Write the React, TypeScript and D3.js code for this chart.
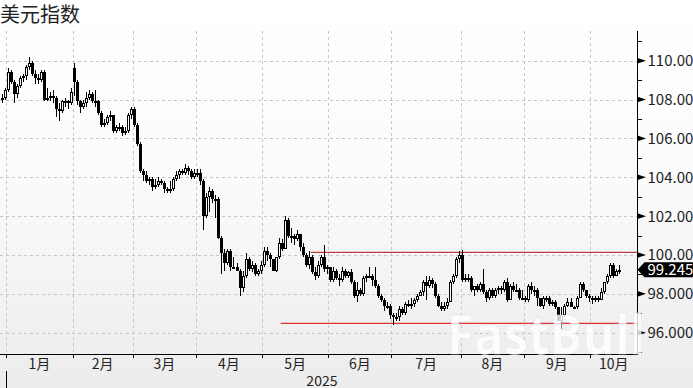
import React from "react";
import * as d3 from "d3";

// [day, open, high, low, close]
const dec24: number[][] = [
  [30, 108.0, 108.3, 107.8, 108.1], [31, 108.1, 108.6, 108.0, 108.5],
];
const jan25: number[][] = [
  [2, 108.5, 109.6, 108.4, 109.4], [3, 109.4, 109.5, 108.8, 108.9], [6, 108.9, 109.0, 107.8, 108.3],
  [7, 108.3, 108.8, 108.1, 108.7], [8, 108.7, 109.2, 108.6, 109.1], [9, 109.1, 109.3, 108.9, 109.2],
  [10, 109.2, 109.8, 109.0, 109.7], [13, 109.7, 110.2, 109.5, 109.9], [14, 109.9, 110.0, 109.2, 109.3],
  [15, 109.3, 109.5, 108.8, 109.1], [16, 109.1, 109.3, 108.8, 109.0], [17, 109.0, 109.5, 108.9, 109.4],
  [20, 109.4, 109.5, 107.9, 108.0], [21, 108.0, 108.6, 107.9, 108.1], [22, 108.1, 108.4, 107.9, 108.2],
  [23, 108.2, 108.5, 107.8, 108.1], [24, 108.1, 108.2, 107.1, 107.5], [27, 107.5, 107.8, 106.9, 107.4],
  [28, 107.4, 108.0, 107.3, 107.9], [29, 107.9, 108.1, 107.6, 107.9], [30, 107.9, 108.0, 107.5, 107.8],
  [31, 107.8, 108.6, 107.7, 108.4],
];
const feb25: number[][] = [
  [3, 109.6, 109.9, 108.2, 108.9], [4, 108.9, 109.0, 107.7, 107.9], [5, 107.9, 108.0, 107.3, 107.6],
  [6, 107.6, 108.0, 107.5, 107.8], [7, 107.8, 108.4, 107.6, 108.1], [10, 108.1, 108.5, 108.0, 108.3],
  [11, 108.3, 108.4, 107.8, 107.9], [12, 107.9, 108.5, 107.6, 107.9], [13, 107.9, 108.0, 107.2, 107.3],
  [14, 107.3, 107.4, 106.6, 106.7], [17, 106.7, 107.0, 106.6, 106.8], [18, 106.8, 107.2, 106.7, 107.1],
  [19, 107.1, 107.4, 106.9, 107.2], [20, 107.2, 107.2, 106.3, 106.4], [21, 106.4, 106.7, 106.3, 106.6],
  [24, 106.6, 106.8, 106.4, 106.6], [25, 106.6, 106.7, 106.1, 106.3], [26, 106.3, 106.6, 106.2, 106.4],
  [27, 106.4, 107.3, 106.3, 107.2], [28, 107.2, 107.6, 107.0, 107.5],
];
const mar25: number[][] = [
  [3, 107.5, 107.6, 106.6, 106.7], [4, 106.7, 106.8, 105.6, 105.7], [5, 105.7, 105.8, 104.2, 104.3],
  [6, 104.3, 104.4, 103.8, 104.1], [7, 104.1, 104.3, 103.7, 103.8], [10, 103.8, 104.0, 103.6, 103.9],
  [11, 103.9, 104.0, 103.3, 103.5], [12, 103.5, 103.9, 103.4, 103.6], [13, 103.6, 104.0, 103.5, 103.8],
  [14, 103.8, 103.9, 103.6, 103.7], [17, 103.7, 103.8, 103.2, 103.4], [18, 103.4, 103.5, 103.2, 103.3],
  [19, 103.3, 103.8, 103.2, 103.4], [20, 103.4, 104.0, 103.3, 103.9], [21, 103.9, 104.3, 103.8, 104.1],
  [24, 104.1, 104.4, 103.9, 104.3], [25, 104.3, 104.4, 104.1, 104.2], [26, 104.2, 104.7, 104.1, 104.5],
  [27, 104.5, 104.6, 104.1, 104.3], [28, 104.3, 104.4, 103.9, 104.0], [31, 104.0, 104.4, 103.9, 104.2],
];
const apr25: number[][] = [
  [1, 104.2, 104.4, 104.0, 104.2], [2, 104.2, 104.4, 103.6, 103.8], [3, 103.8, 103.9, 101.3, 102.0],
  [4, 102.0, 103.2, 101.9, 103.0], [7, 103.0, 103.5, 102.2, 103.3], [8, 103.3, 103.4, 102.7, 102.9],
  [9, 102.9, 103.1, 101.9, 102.9], [10, 102.9, 103.0, 100.8, 100.9], [11, 100.9, 101.0, 99.0, 100.1],
  [14, 100.1, 100.3, 99.2, 99.6], [15, 99.6, 100.3, 99.5, 100.2], [16, 100.2, 100.3, 99.2, 99.4],
  [17, 99.4, 99.9, 99.3, 99.4], [18, 99.4, 99.6, 99.2, 99.2], [21, 99.2, 99.3, 97.9, 98.3],
  [22, 98.3, 99.2, 98.1, 98.9], [23, 98.9, 100.1, 98.8, 99.8], [24, 99.8, 99.9, 99.2, 99.3],
  [25, 99.3, 99.7, 99.1, 99.5], [28, 99.5, 99.6, 98.9, 99.0], [29, 99.0, 99.3, 98.9, 99.2],
  [30, 99.2, 99.7, 99.0, 99.5],
];
const may25: number[][] = [
  [1, 99.5, 100.4, 99.4, 100.2], [2, 100.2, 100.4, 99.7, 100.0], [5, 100.0, 100.1, 99.4, 99.8],
  [6, 99.8, 99.8, 99.2, 99.2], [7, 99.2, 99.9, 99.1, 99.9], [8, 99.9, 100.9, 99.8, 100.6],
  [9, 100.6, 100.8, 100.2, 100.3], [12, 100.3, 102.0, 100.3, 101.8], [13, 101.8, 101.9, 100.9, 101.0],
  [14, 101.0, 101.4, 100.6, 101.0], [15, 101.0, 101.1, 100.5, 100.8], [16, 100.8, 101.3, 100.7, 101.1],
  [19, 101.1, 101.1, 100.2, 100.4], [20, 100.4, 100.6, 99.9, 100.0], [21, 100.0, 100.1, 99.4, 99.5],
  [22, 99.5, 100.2, 99.3, 99.9], [23, 99.9, 100.0, 99.0, 99.1], [26, 99.1, 99.4, 98.7, 98.9],
  [27, 98.9, 99.7, 98.8, 99.5], [28, 99.5, 100.0, 99.4, 99.9], [29, 99.9, 100.5, 99.1, 99.3],
  [30, 99.3, 99.5, 99.0, 99.4],
];
const jun25: number[][] = [
  [2, 99.4, 99.4, 98.6, 98.7], [3, 98.7, 99.4, 98.6, 99.2], [4, 99.2, 99.3, 98.7, 98.8],
  [5, 98.8, 99.0, 98.4, 98.7], [6, 98.7, 99.4, 98.6, 99.2], [9, 99.2, 99.3, 98.8, 98.9],
  [10, 98.9, 99.2, 98.8, 99.1], [11, 99.1, 99.3, 98.5, 98.6], [12, 98.6, 98.7, 97.8, 97.9],
  [13, 97.9, 98.6, 97.6, 98.2], [16, 98.2, 98.3, 97.9, 98.0], [17, 98.0, 98.9, 97.9, 98.8],
  [18, 98.8, 99.0, 98.6, 98.9], [19, 98.9, 99.4, 98.8, 98.9], [20, 98.9, 99.0, 98.4, 98.7],
  [23, 98.7, 99.4, 98.3, 98.4], [24, 98.4, 98.5, 97.8, 97.9], [25, 97.9, 98.0, 97.6, 97.7],
  [26, 97.7, 97.8, 97.1, 97.4], [27, 97.4, 97.6, 97.2, 97.4], [30, 97.4, 97.5, 96.7, 96.9],
];
const jul25: number[][] = [
  [1, 96.9, 97.0, 96.4, 96.8], [2, 96.8, 97.0, 96.6, 96.8], [3, 96.8, 97.4, 96.6, 97.2],
  [4, 97.2, 97.3, 96.9, 97.0], [7, 97.0, 97.6, 96.9, 97.5], [8, 97.5, 97.7, 97.3, 97.5],
  [9, 97.5, 97.8, 97.2, 97.5], [10, 97.5, 97.8, 97.3, 97.7], [11, 97.7, 98.0, 97.6, 97.9],
  [14, 97.9, 98.2, 97.9, 98.1], [15, 98.1, 98.7, 97.9, 98.6], [16, 98.6, 98.9, 97.7, 98.4],
  [17, 98.4, 98.9, 98.3, 98.7], [18, 98.7, 98.8, 98.3, 98.5], [21, 98.5, 98.6, 97.8, 97.9],
  [22, 97.9, 98.0, 97.3, 97.4], [23, 97.4, 97.6, 97.1, 97.2], [24, 97.2, 97.6, 97.1, 97.4],
  [25, 97.4, 97.8, 97.2, 97.6], [28, 97.6, 98.7, 97.6, 98.6], [29, 98.6, 99.0, 98.5, 98.9],
  [30, 98.9, 99.9, 98.8, 99.8], [31, 99.8, 100.2, 99.6, 100.0],
];
const aug25: number[][] = [
  [1, 100.0, 100.25, 98.6, 98.7], [4, 98.7, 99.0, 98.6, 98.8], [5, 98.8, 99.0, 98.6, 98.8],
  [6, 98.8, 98.9, 98.1, 98.2], [7, 98.2, 98.4, 97.9, 98.4], [8, 98.4, 98.5, 98.1, 98.2],
  [11, 98.2, 98.6, 98.1, 98.5], [12, 98.5, 99.3, 98.0, 98.1], [13, 98.1, 98.2, 97.6, 97.8],
  [14, 97.8, 98.3, 97.7, 98.2], [15, 98.2, 98.3, 97.8, 97.9], [18, 97.9, 98.3, 97.8, 98.2],
  [19, 98.2, 98.4, 98.0, 98.3], [20, 98.3, 98.4, 98.0, 98.2], [21, 98.2, 98.7, 98.1, 98.6],
  [22, 98.6, 98.8, 97.6, 97.7], [25, 97.7, 98.5, 97.7, 98.4], [26, 98.4, 98.6, 98.1, 98.2],
  [27, 98.2, 98.5, 98.1, 98.2], [28, 98.2, 98.3, 97.7, 97.8], [29, 97.8, 98.2, 97.7, 97.8],
];
const sep25: number[][] = [
  [1, 97.8, 97.9, 97.6, 97.7], [2, 97.7, 98.5, 97.6, 98.4], [3, 98.4, 98.6, 98.0, 98.2],
  [4, 98.2, 98.4, 97.9, 98.2], [5, 98.2, 98.3, 97.4, 97.8], [8, 97.8, 97.8, 97.3, 97.4],
  [9, 97.4, 97.9, 97.2, 97.8], [10, 97.8, 97.9, 97.6, 97.8], [11, 97.8, 97.9, 97.4, 97.5],
  [12, 97.5, 97.7, 97.4, 97.6], [15, 97.6, 97.7, 97.2, 97.3], [16, 97.3, 97.3, 96.6, 96.6],
  [17, 96.6, 97.3, 96.2, 96.9], [18, 96.9, 97.5, 96.8, 97.4], [19, 97.4, 97.8, 97.3, 97.6],
  [22, 97.6, 97.8, 97.3, 97.3], [23, 97.3, 97.4, 97.2, 97.3], [24, 97.3, 97.9, 97.2, 97.8],
  [25, 97.8, 98.6, 97.8, 98.5], [26, 98.5, 98.6, 98.1, 98.2], [29, 98.2, 98.2, 97.8, 97.9],
  [30, 97.9, 98.0, 97.6, 97.8],
];
const oct25: number[][] = [
  [1, 97.8, 97.9, 97.5, 97.7], [2, 97.7, 97.9, 97.6, 97.8], [3, 97.8, 97.9, 97.6, 97.7],
  [6, 97.7, 98.3, 97.7, 98.1], [7, 98.1, 98.6, 98.0, 98.6], [8, 98.6, 99.0, 98.5, 98.9],
  [9, 98.9, 99.6, 98.8, 99.5], [10, 99.5, 99.6, 98.8, 98.9], [13, 98.9, 99.3, 98.9, 99.2],
  [14, 99.1, 99.5, 99.0, 99.245],
];

const monthBlocks: [number, number, number[][]][] = [
  [2024, 12, dec24], [2025, 1, jan25], [2025, 2, feb25], [2025, 3, mar25], [2025, 4, apr25],
  [2025, 5, may25], [2025, 6, jun25], [2025, 7, jul25], [2025, 8, aug25], [2025, 9, sep25], [2025, 10, oct25],
];
const monthLabels = ["1月", "2月", "3月", "4月", "5月", "6月", "7月", "8月", "9月", "10月"];
const yearLabel = "2025";
const yMajorTicks = [96, 98, 100, 102, 104, 106, 108, 110];
const yMinorTicks = [95, 97, 99, 101, 103, 105, 107, 109, 111];
const levelValues = [100.13, 96.48];
const levelStartKeys = ["2025-5-23", "2025-5-9"];
const levelColors = ["#b84040", "#dc3434"];
const title = "美元指数";
const lastLabel = "99.245";

type Candle = { key: string; month: number; o: number; h: number; l: number; c: number };
const candles: Candle[] = [];
monthBlocks.forEach(([yr, m, rows]) =>
  rows.forEach((r) => candles.push({ key: `${yr}-${m}-${r[0]}`, month: m, o: r[1], h: r[2], l: r[3], c: r[4] }))
);

const W = 693;
const H = 388;
const AXIS_X = 637.5;
const PLOT_TOP = 31;
const AXIS_Y = 353.5;
const STEP = 3.009;
const FONT = "'Noto Sans CJK SC', 'Noto Sans', sans-serif";

export default function App() {
  const x = d3.scaleLinear().domain([0, candles.length - 1]).range([1.8, 1.8 + (candles.length - 1) * STEP]);
  const y = d3.scaleLinear().domain([95, 111]).range([352.13, 41.27]);

  const monthTicks: number[] = [];
  candles.forEach((d, i) => {
    if (i > 0 && d.month !== candles[i - 1].month) monthTicks.push(x(i) - STEP / 2);
  });
  const labelCenters = monthTicks.map((t, i) => (t + (i + 1 < monthTicks.length ? monthTicks[i + 1] : AXIS_X)) / 2);

  const last = candles[candles.length - 1];
  const ly = y(last.c);

  return (
    <svg width={W} height={H} style={{ position: "fixed", left: 0, top: 0, display: "block" }} fontFamily={FONT}>
      <defs>
        <linearGradient id="bg" x1="0" y1="0" x2="0" y2="1">
          <stop offset="0" stopColor="#ffffff" />
          <stop offset="0.45" stopColor="#fbfbfb" />
          <stop offset="1" stopColor="#ececec" />
        </linearGradient>
        <clipPath id="plot">
          <rect x={0} y={PLOT_TOP} width={AXIS_X} height={AXIS_Y - PLOT_TOP} />
        </clipPath>
      </defs>
      <rect x={0} y={0} width={W} height={H} fill="url(#bg)" />

      <text x={0} y={22} fontSize={20} fill="#222">{title}</text>

      {/* grid */}
      <g stroke="#c6c6c6" strokeWidth={1} strokeDasharray="3,3" shapeRendering="crispEdges">
        {yMajorTicks.map((v) => (
          <line key={"h" + v} x1={0} x2={AXIS_X} y1={Math.round(y(v)) + 0.5} y2={Math.round(y(v)) + 0.5} />
        ))}
        {monthTicks.map((t, i) => (
          <line key={"v" + i} x1={Math.round(t) + 0.5} x2={Math.round(t) + 0.5} y1={PLOT_TOP} y2={AXIS_Y} />
        ))}
      </g>

      {/* level lines */}
      {levelValues.map((v, i) => {
        const idx = candles.findIndex((d) => d.key === levelStartKeys[i]);
        return (
          <line key={"lv" + i} x1={x(idx) - 1} x2={AXIS_X} y1={y(v)} y2={y(v)} stroke={levelColors[i]} strokeWidth={1.3} />
        );
      })}

      {/* candles */}
      <g clipPath="url(#plot)" shapeRendering="crispEdges">
        {candles.map((d, i) => {
          const a = Math.round(x(i)) - 1;
          const top = Math.round(y(Math.max(d.o, d.c)));
          const bot = Math.round(y(Math.min(d.o, d.c)));
          const up = d.c >= d.o;
          return (
            <g key={d.key}>
              <line x1={a + 1.5} x2={a + 1.5} y1={y(d.h)} y2={y(d.l)} stroke="#000" strokeWidth={1} />
              {up ? (
                <rect x={a + 0.5} y={top + 0.5} width={2} height={Math.max(bot - top - 1, 1)} fill="#fff" stroke="#000" strokeWidth={1} />
              ) : (
                <rect x={a} y={top} width={3} height={Math.max(bot - top, 1)} fill="#000" />
              )}
            </g>
          );
        })}
      </g>

      {/* axes */}
      <g stroke="#000" strokeWidth={1} shapeRendering="crispEdges">
        <line x1={AXIS_X} x2={AXIS_X} y1={PLOT_TOP} y2={AXIS_Y} />
        <line x1={0} x2={AXIS_X} y1={AXIS_Y + 0.5} y2={AXIS_Y + 0.5} />
        {yMinorTicks.map((v) => (
          <line key={"mt" + v} x1={AXIS_X} x2={AXIS_X + 4} y1={Math.round(y(v)) + 0.5} y2={Math.round(y(v)) + 0.5} />
        ))}
        {monthTicks.map((t, i) => (
          <line key={"xt" + i} x1={Math.round(t) + 0.5} x2={Math.round(t) + 0.5} y1={AXIS_Y} y2={AXIS_Y + 4} />
        ))}
        <line x1={Math.round(monthTicks[0]) + 0.5} x2={Math.round(monthTicks[0]) + 0.5} y1={371} y2={H} />
      </g>
      {yMajorTicks.map((v) => {
        const ty = y(v);
        return (
          <g key={"yt" + v}>
            <path d={`M${AXIS_X},${ty - 2.8}L${AXIS_X + 8.5},${ty}L${AXIS_X},${ty + 2.8}Z`} fill="#000" />
            <text x={647.5} y={ty} dy="0.36em" fontSize={15} fill="#222">{v.toFixed(3)}</text>
          </g>
        );
      })}
      {monthLabels.map((m, i) => (
        <text key={m} x={labelCenters[i]} y={369} textAnchor="middle" fontSize={14} fill="#222">{m}</text>
      ))}
      <text x={(monthTicks[0] + AXIS_X) / 2} y={386} textAnchor="middle" fontSize={14} fill="#222">{yearLabel}</text>

      {/* last value */}
      <path d={`M${AXIS_X},${ly}L${AXIS_X + 7},${ly - 7.5}L${W},${ly - 7.5}L${W},${ly + 7.5}L${AXIS_X + 7},${ly + 7.5}Z`} fill="#000" />
      <text x={647.5} y={ly} dy="0.36em" fontSize={15} fill="#fff">{lastLabel}</text>

      {/* watermark */}
      <text x={447} y={354} fontSize={54} fontWeight={700} fill="#ffffff" fillOpacity={0.8}
        stroke="#e2e2e2" strokeOpacity={0.5} strokeWidth={0.8}
        fontFamily="'Open Sans', 'Noto Sans', sans-serif" textLength={198} lengthAdjust="spacingAndGlyphs">FastBull</text>
    </svg>
  );
}
